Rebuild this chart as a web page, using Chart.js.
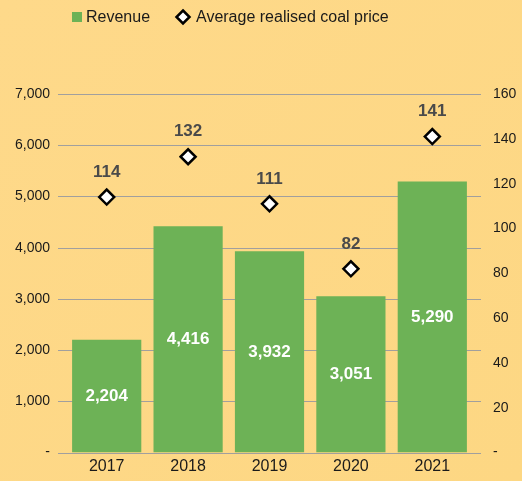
<!DOCTYPE html>
<html>
<head>
<meta charset="utf-8">
<script src="https://cdn.jsdelivr.net/npm/chart.js@4/dist/chart.umd.min.js"></script>
<style>
  html, body { margin: 0; padding: 0; background: #fed987; }
  #wrap { width: 522px; height: 481px; }
</style>
</head>
<body>
<div id="wrap"><canvas id="chart" width="522" height="481"></canvas></div>
<script>
const years = ["2017", "2018", "2019", "2020", "2021"];
const revenue = [2204, 4416, 3932, 3051, 5290];
const coalPrice = [114, 132, 111, 82, 141];
const revenueTicks = [0, 1000, 2000, 3000, 4000, 5000, 6000, 7000];
const priceTicks = [0, 20, 40, 60, 80, 100, 120, 140, 160];

const FONT = "'Liberation Sans', Arial, Helvetica, sans-serif";
const GREEN = "#6db256";
const GRID = "rgba(130, 140, 165, 0.75)";
const EXT = 8; // grid lines run past the plot on both sides

function fmt(v) {
  return v === 0 ? "-" : v.toLocaleString("en-US");
}

// background + gridlines (extended a bit on both sides like the original)
const backdrop = {
  id: "backdrop",
  beforeDraw(chart) {
    const { ctx, width, height } = chart;
    const g = ctx.createLinearGradient(0, 0, width, height);
    g.addColorStop(0, "#fed98a");
    g.addColorStop(1, "#fdd783");
    ctx.save();
    ctx.fillStyle = g;
    ctx.fillRect(0, 0, width, height);
    ctx.restore();
  },
  beforeDatasetsDraw(chart) {
    const { ctx, chartArea } = chart;
    const y = chart.scales.y;
    ctx.save();
    ctx.strokeStyle = GRID;
    ctx.lineWidth = 1;
    y.ticks.forEach((t) => {
      const py = Math.round(y.getPixelForValue(t.value)) + 0.5;
      ctx.beginPath();
      ctx.moveTo(chartArea.left - EXT, py);
      ctx.lineTo(chartArea.right + EXT, py);
      ctx.stroke();
    });
    ctx.restore();
  }
};

// value labels on bars and above the price markers
const valueLabels = {
  id: "valueLabels",
  afterDatasetsDraw(chart) {
    const { ctx } = chart;
    ctx.save();
    ctx.textAlign = "center";
    ctx.textBaseline = "middle";
    ctx.font = "bold 17px " + FONT;

    chart.getDatasetMeta(0).data.forEach((bar, i) => {
      ctx.fillStyle = "#ffffff";
      ctx.fillText(fmt(revenue[i]), bar.x, (bar.y + bar.base) / 2);
    });

    chart.getDatasetMeta(1).data.forEach((pt, i) => {
      ctx.fillStyle = "#4a4a4a";
      ctx.fillText(String(coalPrice[i]), pt.x, pt.y - 25);
    });
    ctx.restore();
  }
};

// legend drawn by hand so it can sit left of centre as in the source
const legendRow = {
  id: "legendRow",
  afterDraw(chart) {
    const { ctx } = chart;
    const cy = 17;
    ctx.save();
    ctx.font = "16px " + FONT;
    ctx.textBaseline = "middle";

    ctx.fillStyle = GREEN;
    ctx.fillRect(72, cy - 5, 10, 10);
    ctx.fillStyle = "#1a1a1a";
    ctx.fillText(chart.data.datasets[0].label, 86, cy + 1);

    ctx.beginPath();
    ctx.moveTo(183, cy - 6.5);
    ctx.lineTo(189.5, cy);
    ctx.lineTo(183, cy + 6.5);
    ctx.lineTo(176.5, cy);
    ctx.closePath();
    ctx.fillStyle = "#ffffff";
    ctx.fill();
    ctx.lineWidth = 2.5;
    ctx.strokeStyle = "#000000";
    ctx.stroke();
    ctx.fillStyle = "#1a1a1a";
    ctx.fillText(chart.data.datasets[1].label, 196, cy + 1);
    ctx.restore();
  }
};

new Chart(document.getElementById("chart"), {
  data: {
    labels: years,
    datasets: [
      {
        type: "bar",
        label: "Revenue",
        data: revenue,
        yAxisID: "y",
        backgroundColor: GREEN,
        borderWidth: 0,
        barPercentage: 0.85,
        categoryPercentage: 1.0,
        order: 2
      },
      {
        type: "line",
        label: "Average realised coal price",
        data: coalPrice,
        yAxisID: "y1",
        showLine: false,
        pointStyle: "rectRot",
        pointRadius: 7.5,
        pointBackgroundColor: "#ffffff",
        pointBorderColor: "#000000",
        pointBorderWidth: 2.5,
        order: 1
      }
    ]
  },
  options: {
    responsive: false,
    animation: false,
    layout: { padding: { top: 94, left: 0, right: 0, bottom: 0 } },
    plugins: {
      legend: { display: false },
      tooltip: { enabled: false }
    },
    scales: {
      x: {
        grid: { display: false, drawTicks: false },
        border: { display: false },
        ticks: { color: "#1a1a1a", font: { family: FONT, size: 16 }, padding: 4 },
        afterFit(s) { s.height = 26; }
      },
      y: {
        position: "left",
        min: 0,
        max: 7000,
        afterBuildTicks(s) { s.ticks = revenueTicks.map((v) => ({ value: v })); },
        grid: { display: false, drawTicks: false },
        border: { display: false },
        ticks: {
          color: "#1a1a1a",
          font: { family: FONT, size: 14 },
          padding: 16,
          callback: (v) => fmt(v)
        },
        afterFit(s) { s.width = 66; }
      },
      y1: {
        position: "right",
        min: 0,
        max: 160,
        afterBuildTicks(s) { s.ticks = priceTicks.map((v) => ({ value: v })); },
        grid: { display: false, drawTicks: false },
        border: { display: false },
        ticks: {
          color: "#1a1a1a",
          font: { family: FONT, size: 14 },
          padding: 20,
          callback: (v) => fmt(v)
        },
        afterFit(s) { s.width = 49; }
      }
    }
  },
  plugins: [backdrop, valueLabels, legendRow]
});
</script>
</body>
</html>
